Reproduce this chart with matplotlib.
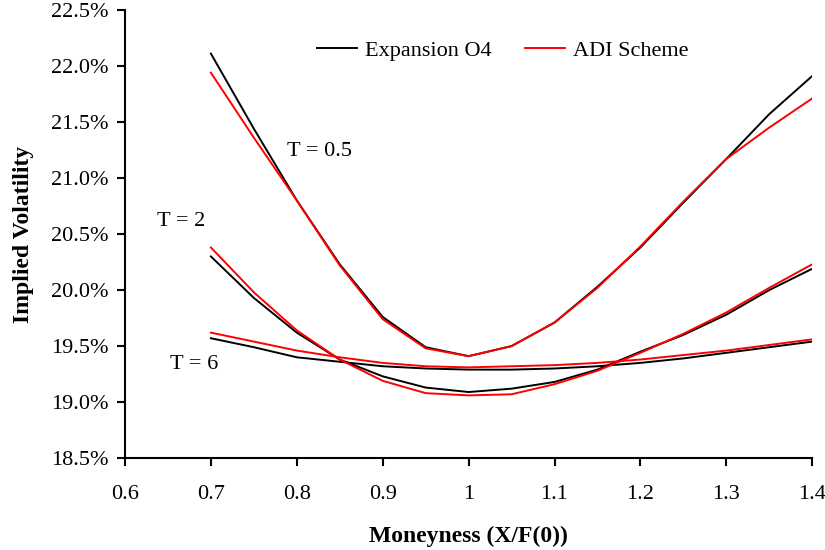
import matplotlib.pyplot as plt
import matplotlib.ticker as mticker

plt.rcParams['font.family'] = ['Liberation Serif', 'DejaVu Serif']

# moneyness grid
moneyness = [0.70, 0.75, 0.80, 0.85, 0.90, 0.95, 1.00, 1.05, 1.10, 1.15, 1.20, 1.25, 1.30, 1.35, 1.40]

# implied volatility (%) - expansion O4
exp_t05 = [22.11, 21.44, 20.80, 20.23, 19.76, 19.49, 19.41, 19.50, 19.71, 20.03, 20.38, 20.78, 21.17, 21.57, 21.91]
exp_t2 = [20.30, 19.93, 19.62, 19.38, 19.23, 19.13, 19.09, 19.12, 19.18, 19.29, 19.45, 19.60, 19.78, 20.00, 20.19]
exp_t6 = [19.57, 19.49, 19.40, 19.36, 19.32, 19.30, 19.29, 19.29, 19.30, 19.32, 19.35, 19.39, 19.44, 19.49, 19.54]

# implied volatility (%) - ADI scheme
adi_t05 = [21.94, 21.36, 20.80, 20.22, 19.74, 19.48, 19.41, 19.50, 19.71, 20.02, 20.39, 20.79, 21.17, 21.45, 21.71]
adi_t2 = [20.38, 19.98, 19.64, 19.38, 19.19, 19.08, 19.06, 19.07, 19.16, 19.28, 19.44, 19.61, 19.80, 20.02, 20.23]
adi_t6 = [19.62, 19.54, 19.46, 19.40, 19.35, 19.32, 19.31, 19.32, 19.33, 19.35, 19.38, 19.42, 19.46, 19.51, 19.56]

fs = 16

fig = plt.figure(figsize=(8.25, 5.5), dpi=100)
ax = fig.add_axes([0.1515, 0.167, 0.833, 0.815])

lw = 1.4
ax.plot(moneyness, exp_t05, color='black', lw=lw, label='Expansion O4')
ax.plot(moneyness, exp_t2, color='black', lw=lw)
ax.plot(moneyness, exp_t6, color='black', lw=lw)
ax.plot(moneyness, adi_t05, color='red', lw=lw, label='ADI Scheme')
ax.plot(moneyness, adi_t2, color='red', lw=lw)
ax.plot(moneyness, adi_t6, color='red', lw=lw)

ax.text(0.789, 21.24, 'T = 0.5', fontsize=fs, va='center', ha='left')
ax.text(0.637, 20.61, 'T = 2', fontsize=fs, va='center', ha='left')
ax.text(0.652, 19.34, 'T = 6', fontsize=fs, va='center', ha='left')

ax.set_xlim(0.6, 1.4)
ax.set_ylim(18.5, 22.5)
ax.set_xticks([0.6, 0.7, 0.8, 0.9, 1.0, 1.1, 1.2, 1.3, 1.4])
ax.set_xticklabels(['0.6', '0.7', '0.8', '0.9', '1', '1.1', '1.2', '1.3', '1.4'])
ax.set_yticks([18.5, 19.0, 19.5, 20.0, 20.5, 21.0, 21.5, 22.0, 22.5])
ax.yaxis.set_major_formatter(mticker.FormatStrFormatter('%.1f%%'))

for side in ['top', 'right']:
    ax.spines[side].set_visible(False)
for side in ['left', 'bottom']:
    ax.spines[side].set_linewidth(1.5)
ax.tick_params(direction='out', length=6, width=1.5, labelsize=fs)
ax.tick_params(axis='x', pad=13)
ax.tick_params(axis='y', pad=6)

ax.set_xlabel('Moneyness (X/F(0))', fontsize=17, fontweight='bold', labelpad=16)
ax.set_ylabel('Implied Volatility', fontsize=17, fontweight='bold', labelpad=12)

ax.legend(loc='center', bbox_to_anchor=(0.55, 0.91), ncol=2, frameon=False,
          fontsize=fs, handlelength=1.8, columnspacing=1.5, handletextpad=0.35)

fig.savefig('out.png', dpi=100)
